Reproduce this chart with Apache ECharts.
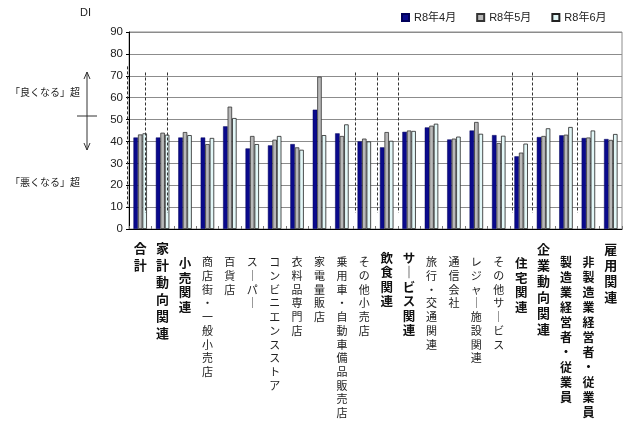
<!DOCTYPE html>
<html>
<head>
<meta charset="utf-8">
<script src="https://cdn.jsdelivr.net/npm/echarts@6/dist/echarts.min.js"></script>
<style>
html, body { margin: 0; padding: 0; background: #fff; }
#main { width: 640px; height: 437px; }
</style>
</head>
<body>
<div id="main"></div>
<script>
// 分野
const categories = ['合計', '家計動向関連', '小売関連', '商店街・一般小売店', '百貨店', 'スーパー',
  'コンビニエンスストア', '衣料品専門店', '家電量販店', '乗用車・自動車備品販売店', 'その他小売店',
  '飲食関連', 'サービス関連', '旅行・交通関連', '通信会社', 'レジャー施設関連', 'その他サービス',
  '住宅関連', '企業動向関連', '製造業経営者・従業員', '非製造業経営者・従業員', '雇用関連'];
const seriesNames = ['R8年4月', 'R8年5月', 'R8年6月'];
const apr = [41.8, 41.8, 41.8, 41.8, 46.9, 36.8, 38.2, 38.8, 54.5, 43.7, 40.0, 37.3, 44.4, 46.4, 40.9, 45.0, 42.9, 33.2, 42.0, 42.8, 41.6, 41.1];
const may = [43.2, 44.0, 44.3, 38.8, 55.9, 42.5, 40.8, 37.3, 69.6, 42.5, 41.3, 44.3, 45.0, 47.2, 41.3, 48.9, 39.3, 34.9, 42.5, 43.1, 41.8, 40.7];
const jun = [43.7, 43.1, 42.9, 41.6, 50.7, 38.8, 42.5, 36.2, 42.9, 47.8, 40.0, 40.3, 44.8, 48.1, 42.2, 43.5, 42.6, 39.0, 46.0, 46.6, 45.0, 43.4];
const yTicks = [0, 90, 10]; // min, max, interval

// 区切りの点線（横位置は分野の番号、縦は DI の値）
const dividerX = [-0.1, 0.71, 1.71, 10.07, 11.07, 12.02, 17.09, 17.99, 20.01];
const dividerTop = [74.3, 71.5, 71.5, 71.5, 71.5, 71.5, 71.5, 71.5, 71.5];
const dividerBottom = [10.2, 7.4, 7.4, 7.4, 7.4, 7.4, 7.4, 7.4, 7.4];

// ラベルの書式（見出しは太字）
const labelKind = ['A', 'A', 'D', 'F', 'F', 'F', 'F', 'F', 'F', 'F', 'F',
  'C', 'C', 'F', 'F', 'F', 'F', 'D', 'B', 'E', 'E', 'B'];

const jp = "'Noto Sans CJK JP', sans-serif";
const latin = "'Liberation Sans', 'Noto Sans CJK JP', sans-serif";

const rich = {
  A: { fontFamily: jp, fontSize: 13, fontWeight: 'bold', lineHeight: 17, color: '#111' },
  B: { fontFamily: jp, fontSize: 13, fontWeight: 'bold', lineHeight: 16, color: '#111' },
  C: { fontFamily: jp, fontSize: 12.5, fontWeight: 'bold', lineHeight: 14.5, color: '#111' },
  D: { fontFamily: jp, fontSize: 12.5, fontWeight: 'bold', lineHeight: 14.5, color: '#111' },
  E: { fontFamily: jp, fontSize: 12, fontWeight: 'bold', lineHeight: 15, color: '#111' },
  F: { fontFamily: jp, fontSize: 11, lineHeight: 13.7, color: '#222' },
  spA: { fontSize: 1, lineHeight: 2.4 },
  spB: { fontSize: 1, lineHeight: 4.4 },
  spC: { fontSize: 1, lineHeight: 13.5 },
  spD: { fontSize: 1, lineHeight: 19 },
  spE: { fontSize: 1, lineHeight: 18 },
  spF: { fontSize: 1, lineHeight: 18.3 }
};

function verticalLabel(value, index) {
  const k = labelKind[index];
  const chars = Array.from(value.replace(/ー/g, '｜'));
  return '{sp' + k + '| }\n' + chars.map(c => '{' + k + '|' + c + '}').join('\n');
}

const barStyles = [
  { color: '#0a0a8c', borderColor: '#00005a', borderWidth: 0.5 },
  { color: '#b8b8b8', borderColor: '#333', borderWidth: 0.8 },
  { color: '#e2f7f7', borderColor: '#222', borderWidth: 0.8 }
];
const values = [apr, may, jun];

const annotations = [
  { type: 'text', left: 80, top: 7, style: { text: 'DI', fontSize: 11, fill: '#222', fontFamily: latin } },
  { type: 'text', x: 10, y: 92, style: { text: '「良くなる」超', fontSize: 10, fill: '#222', fontFamily: jp, verticalAlign: 'middle' } },
  { type: 'text', x: 10, y: 182, style: { text: '「悪くなる」超', fontSize: 10, fill: '#222', fontFamily: jp, verticalAlign: 'middle' } },
  { type: 'line', shape: { x1: 87, y1: 72, x2: 87, y2: 150 }, style: { stroke: '#333', lineWidth: 1 } },
  { type: 'polyline', shape: { points: [[84, 79], [87, 72], [90, 79]] }, style: { stroke: '#333', fill: null, lineWidth: 1 } },
  { type: 'polyline', shape: { points: [[84, 143], [87, 150], [90, 143]] }, style: { stroke: '#333', fill: null, lineWidth: 1 } },
  { type: 'line', shape: { x1: 77, y1: 116, x2: 97, y2: 116 }, style: { stroke: '#333', lineWidth: 1 } }
];

const option = {
  animation: false,
  textStyle: { fontFamily: latin },
  grid: { left: 129, right: 18, top: 32, bottom: 208, show: true, borderColor: '#8c8c8c', borderWidth: 1 },
  legend: {
    data: seriesNames,
    left: 401, top: 12, padding: 0,
    itemWidth: 7, itemHeight: 7, itemGap: 20,
    icon: 'rect',
    textStyle: { fontSize: 11, color: '#222', fontFamily: latin }
  },
  xAxis: [{
    type: 'category',
    data: categories,
    axisLine: { lineStyle: { color: '#000', width: 1 } },
    axisTick: { show: true, inside: true, length: 3, lineStyle: { color: '#777' } },
    axisLabel: { interval: 0, margin: 8, formatter: verticalLabel, rich: rich, hideOverlap: false }
  }, {
    type: 'value', min: 0, max: categories.length, show: false
  }],
  yAxis: {
    type: 'value', min: yTicks[0], max: yTicks[1], interval: yTicks[2],
    axisLine: { show: true, lineStyle: { color: '#000' } },
    axisTick: { show: true, length: 3, lineStyle: { color: '#000' } },
    axisLabel: { fontSize: 11.5, color: '#222', margin: 6, fontFamily: latin },
    splitLine: { lineStyle: { color: '#8c8c8c', width: 1 } }
  },
  series: seriesNames.map((name, i) => ({
    name: name,
    type: 'bar',
    data: values[i],
    barWidth: 4.5,
    barGap: '0%',
    itemStyle: barStyles[i]
  })).concat([{
    type: 'line',
    xAxisIndex: 1,
    data: [],
    silent: true
  }]),
  graphic: annotations
};

const chart = echarts.init(document.getElementById('main'));
chart.setOption(option);

// 点線は軸の目盛から位置を求める
const dividers = dividerX.map((x, i) => {
  const p1 = chart.convertToPixel({ xAxisIndex: 1, yAxisIndex: 0 }, [x, dividerTop[i]]);
  const p2 = chart.convertToPixel({ xAxisIndex: 1, yAxisIndex: 0 }, [x, dividerBottom[i]]);
  const px = Math.round(p1[0]) + 0.5;
  return {
    type: 'line', z: 10, silent: true,
    shape: { x1: px, y1: p1[1], x2: px, y2: p2[1] },
    style: { stroke: '#333', lineWidth: 1, lineDash: [3, 2] }
  };
});
chart.setOption({ graphic: annotations.concat(dividers) });
</script>
</body>
</html>
